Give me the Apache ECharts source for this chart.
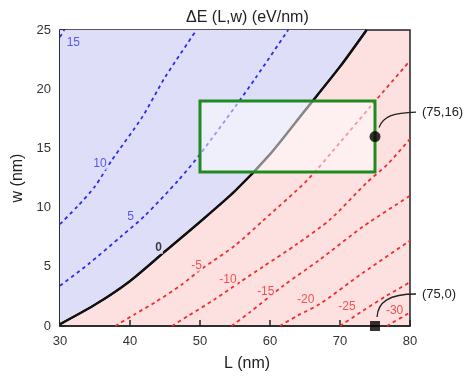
<!DOCTYPE html>
<html>
<head>
<meta charset="utf-8">
<script src="https://cdn.jsdelivr.net/npm/echarts@6/dist/echarts.min.js"></script>
<style>
  html, body { margin: 0; padding: 0; background: #ffffff; }
  #chart { width: 465px; height: 377px; }
</style>
</head>
<body>
<div id="chart"></div>
<script>
// contour levels of dE(L,w) in eV/nm as [L, w] points
const contourP15 = [[30, 24.4], [30.6, 25]];
const contourP10 = [[30, 8.6], [32.5, 10.1], [35, 11.8], [37.4, 14], [41.7, 17.6], [45, 21], [49.5, 25]];
const contourP5 = [[30, 3.4], [34, 5.2], [38.8, 7.6], [42.1, 9.3], [46.9, 12.3], [50, 14.5], [55, 18.5], [58, 21], [62.6, 25]];
const contourZero = [[30, 0.15], [35, 1.8], [40, 3.8], [45, 6.3], [50, 8.8], [55, 11.4], [60, 14.5], [65, 18.2], [70, 21.9], [73.8, 25]];
const contourM5 = [[37.9, 0], [40.7, 1], [43.6, 2], [47.4, 3.5], [50.2, 4.8], [55, 6.8], [59, 8.9], [65.3, 12.3], [70, 15.5], [74.3, 18.5], [80, 22.4]];
const contourM10 = [[46, 0], [48.3, 0.85], [52.1, 2.25], [55.7, 3.7], [59, 5], [63.8, 6.9], [68.6, 9], [73.8, 12.1], [76.7, 13.6], [80, 15.8]];
const contourM15 = [[54.5, 0], [57.1, 1.15], [61.9, 3.4], [67.1, 5.6], [73.3, 8.4], [80, 11]];
const contourM20 = [[61.4, 0], [64, 0.9], [67.1, 1.85], [73.3, 4.5], [80, 7.2]];
const contourM25 = [[70, 0], [73.3, 1.3], [76.5, 2.5], [80, 3.7]];
const contourM30 = [[76.7, 0], [80, 1.15]];

const levels = [15, 10, 5, 0, -5, -10, -15, -20, -25, -30];
const contours = [contourP15, contourP10, contourP5, contourZero, contourM5, contourM10, contourM15, contourM20, contourM25, contourM30];
const labelPoints = [[31.9, 23.9], [35.7, 13.7], [40.1, 9.2], [44.1, 6.6], [49.5, 5.1], [54, 3.9], [59.4, 2.9], [65.1, 2.2], [71, 1.66], [77.8, 1.3]];

// highlighted window and the two marked points
const boxCorners = [[50, 13], [75, 19]];
const pointA = [75, 16];
const pointB = [75, 0];

const xTicks = [30, 40, 50, 60, 70, 80];
const yTicks = [0, 5, 10, 15, 20, 25];

const BLUE_FILL = "#dedef9";
const RED_FILL = "#fde0e0";
const BLUE_LINE = "#2b2bf2";
const RED_LINE = "#f22b2b";
const FONT = "'Liberation Sans', Arial, sans-serif";

const chart = echarts.init(document.getElementById("chart"), null, { renderer: "canvas" });

function lineColor(level) {
  if (level > 0) return BLUE_LINE;
  if (level < 0) return RED_LINE;
  return "#111111";
}

const contourSeries = contours.map((pts, i) => {
  const lvl = levels[i];
  const s = {
    type: "line",
    data: pts,
    showSymbol: false,
    smooth: 0.25,
    silent: true,
    z: 3,
    lineStyle: lvl === 0
      ? { color: "#111111", width: 2.2, type: "solid" }
      : { color: lineColor(lvl), width: 1.8, type: [3.5, 3.5] },
  };
  if (lvl === 0) {
    // everything above the zero line is the positive (blue) region
    s.areaStyle = { color: BLUE_FILL, opacity: 1, origin: "end" };
    s.z = 2;
  }
  return s;
});

// draw the zero line again on top of the blue fill
const zeroLineTop = {
  type: "line",
  data: contourZero,
  showSymbol: false,
  smooth: 0.25,
  silent: true,
  z: 4,
  lineStyle: { color: "#111111", width: 2.2 },
};

const labelSeries = {
  type: "scatter",
  symbolSize: 0,
  silent: true,
  z: 5,
  data: labelPoints.map((p, i) => {
    const lvl = levels[i];
    return {
      value: [p[0], p[1], String(lvl)],
      label: {
        show: true,
        position: "inside",
        formatter: (pr) => pr.value[2],
        color: lvl === 0 ? "#111111" : lvl > 0 ? "#3434ee" : "#ee2d2d",
        fontWeight: lvl === 0 ? "bold" : "normal",
        fontSize: 12,
        fontFamily: FONT,
        backgroundColor: lvl >= 0 ? BLUE_FILL : RED_FILL,
        padding: [0, 1],
      },
    };
  }),
};

const boxSeries = {
  type: "line",
  data: [],
  silent: true,
  z: 6,
  markArea: {
    silent: true,
    z: 6,
    itemStyle: {
      color: "rgba(255,255,255,0.5)",
      borderColor: "#1f8a1f",
      borderWidth: 3,
    },
    data: [[{ coord: boxCorners[0] }, { coord: boxCorners[1] }]],
  },
};

const pointSeries = {
  type: "scatter",
  silent: true,
  clip: false,
  z: 8,
  data: [
    { value: pointA, symbol: "circle", symbolSize: 11 },
    { value: pointB, symbol: "rect", symbolSize: 10 },
  ],
  itemStyle: { color: "#000000" },
};

const axisText = { color: "#333333", fontSize: 13, fontFamily: FONT };

chart.setOption({
  animation: false,
  backgroundColor: "#ffffff",
  title: {
    text: "\u0394E (L,w) (eV/nm)",
    left: 181,
    top: 5,
    textStyle: { color: "#222222", fontSize: 16, fontWeight: "normal", fontFamily: FONT },
  },
  grid: {
    left: 60,
    right: 55,
    top: 30,
    bottom: 50,
    show: true,
    backgroundColor: RED_FILL,
    borderColor: "#222222",
    borderWidth: 1.5,
  },
  xAxis: {
    type: "value",
    min: xTicks[0],
    max: xTicks[xTicks.length - 1],
    interval: 10,
    name: "L (nm)",
    nameLocation: "middle",
    nameGap: 30,
    nameTextStyle: { color: "#222222", fontSize: 16, fontFamily: FONT, padding: [0, 0, 0, 24] },
    axisLine: { show: true, lineStyle: { color: "#222222", width: 1.5 } },
    axisTick: { show: true, inside: true, length: 6, lineStyle: { color: "#222222", width: 1.5 } },
    axisLabel: Object.assign({ margin: 9 }, axisText),
    splitLine: { show: false },
  },
  yAxis: {
    type: "value",
    min: yTicks[0],
    max: yTicks[yTicks.length - 1],
    interval: 5,
    name: "w (nm)",
    nameLocation: "middle",
    nameGap: 23,
    nameTextStyle: { color: "#222222", fontSize: 16, fontFamily: FONT },
    axisLine: { show: true, lineStyle: { color: "#222222", width: 1.5 } },
    axisTick: { show: true, inside: true, length: 6, lineStyle: { color: "#222222", width: 1.5 } },
    axisLabel: Object.assign({ margin: 9 }, axisText),
    splitLine: { show: false },
  },
  series: contourSeries.concat([zeroLineTop, labelSeries, boxSeries, pointSeries]),
});

// leader lines and coordinate notes next to the two marked points
function callout(pt, text, c1, c2, start, end) {
  const p = chart.convertToPixel({ gridIndex: 0 }, pt);
  return [
    {
      type: "bezierCurve",
      silent: true,
      z: 100,
      shape: {
        x1: p[0] + start[0], y1: p[1] + start[1],
        cpx1: p[0] + c1[0], cpy1: p[1] + c1[1],
        cpx2: p[0] + c2[0], cpy2: p[1] + c2[1],
        x2: p[0] + end[0], y2: p[1] + end[1],
      },
      style: { stroke: "#222222", lineWidth: 1.3, fill: null },
    },
    {
      type: "text",
      silent: true,
      z: 100,
      x: p[0] + end[0] + 6,
      y: p[1] + end[1],
      style: {
        text: text,
        fill: "#222222",
        font: "13px " + FONT,
        verticalAlign: "middle",
        textAlign: "left",
      },
    },
  ];
}

chart.setOption({
  graphic: [].concat(
    callout(pointA, "(75,16)", [8, -20], [18, -24], [4, -9], [41, -24.5]),
    callout(pointB, "(75,0)", [3, -24], [14, -32], [2, -9], [41, -32])
  ),
});
</script>
</body>
</html>
